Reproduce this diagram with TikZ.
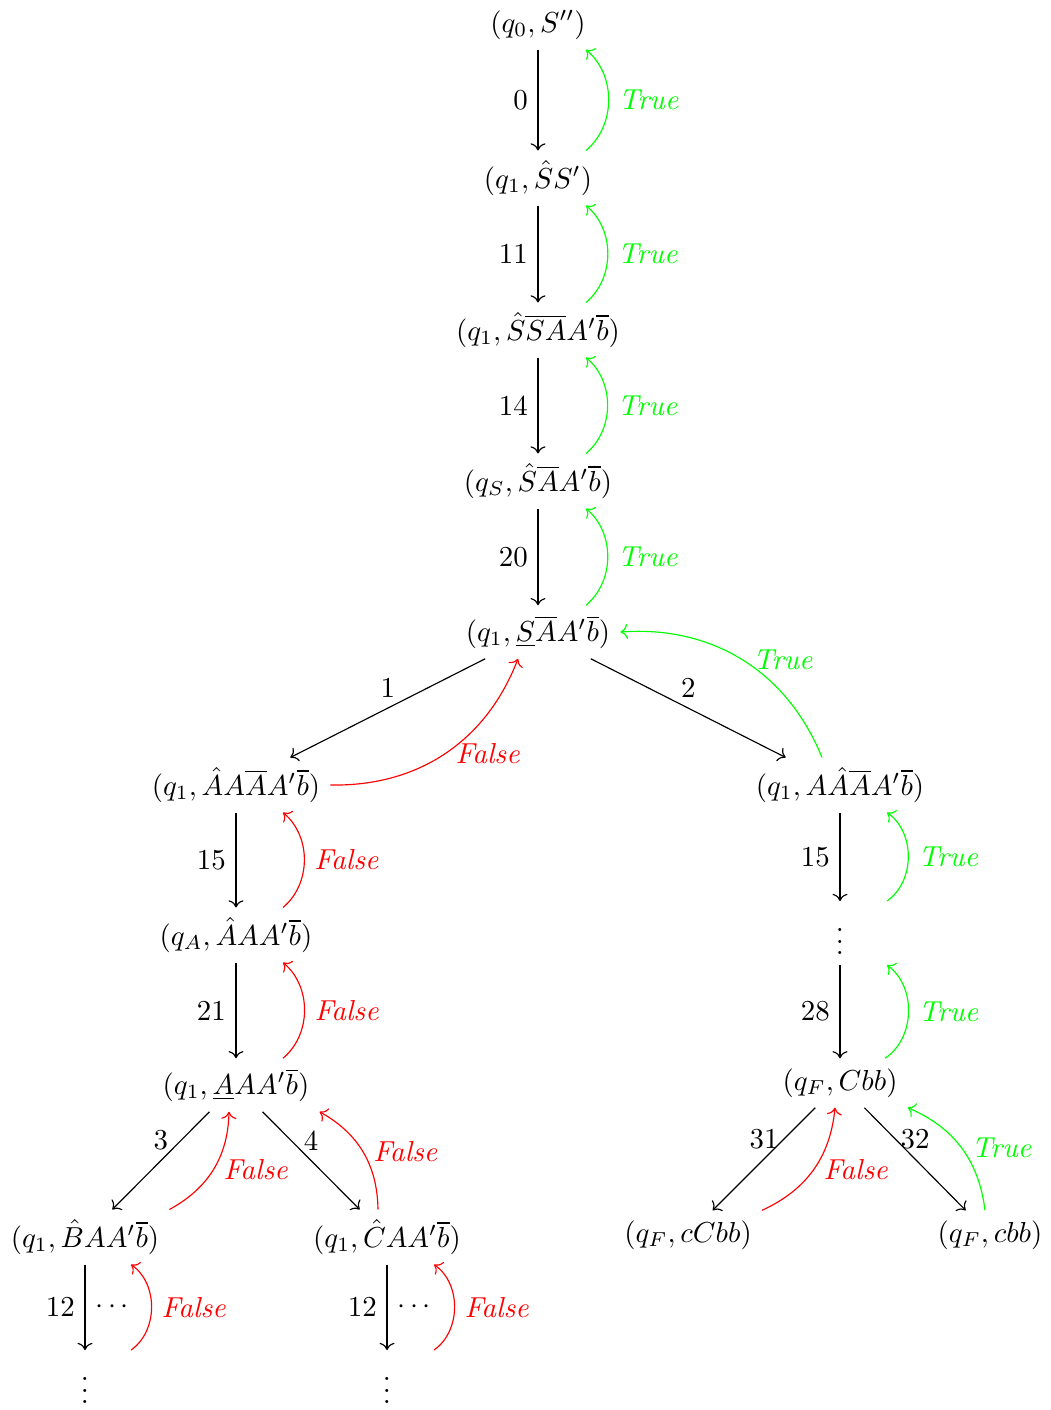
\documentclass[tikz,border=0pt]{standalone}
\usetikzlibrary{calc,arrows.meta}
\begin{document}
\begin{tikzpicture}[x=0.346pt,y=-0.346pt,
  >={Computer Modern Rightarrow},
  tru/.style={->,green},
  fal/.style={->,red},
  lab/.style={font=\itshape}]
\useasboundingbox (0,0) rectangle (1051,1410);
% nodes
\node (n0) at (538,25) {$(q_0,S'')$};
\node (n1) at (538,178) {$(q_1,\hat{S}S')$};
\node (n2) at (538,330) {$(q_1,\hat{S}\overline{S}\overline{A}A'\overline{b})$};
\node (n3) at (538,481) {$(q_S,\hat{S}\overline{A}A'\overline{b})$};
\node (n4) at (538,632) {$(q_1,\underline{S}\overline{A}A'\overline{b})$};
\node (nL) at (236,785) {$(q_1,\hat{A}A\overline{A}A'\overline{b})$};
\node (nR) at (840,785) {$(q_1,A\hat{A}\overline{A}A'\overline{b})$};
\node (nL2) at (236,935) {$(q_A,\hat{A}AA'\overline{b})$};
\node (nL3) at (236,1085) {$(q_1,\underline{A}AA'\overline{b})$};
\node (nLL) at (85,1237) {$(q_1,\hat{B}AA'\overline{b})$};
\node (nLR) at (387,1237) {$(q_1,\hat{C}AA'\overline{b})$};
\node (dL) at (85,1382) {$\vdots$};
\node (dR) at (387,1382) {$\vdots$};
\node (vR) at (840,933) {$\vdots$};
\node (nF) at (840,1083) {$(q_F,Cbb)$};
\node (nF1) at (688,1235) {$(q_F,cCbb)$};
\node (nF2) at (990,1235) {$(q_F,cbb)$};
% black transitions
\draw[->] (n0) -- node[left]{0} (n1);
\draw[->] (n1) -- node[left]{11} (n2);
\draw[->] (n2) -- node[left]{14} (n3);
\draw[->] (n3) -- node[left]{20} (n4);
\draw[->] (n4) -- node[above]{1} (nL);
\draw[->] (n4) -- node[above]{2} (nR);
\draw[->] (nL) -- node[left]{15} (nL2);
\draw[->] (nL2) -- node[left]{21} (nL3);
\draw[->] (nL3) -- node[above]{3} (nLL);
\draw[->] (nL3) -- node[above]{4} (nLR);
\draw[->] (nLL) -- node[left]{12} node[right]{$\cdots$} (dL);
\draw[->] (nLR) -- node[left]{12} node[right]{$\cdots$} (dR);
\draw[->] (nR) -- node[left]{15} (vR);
\draw[->] (vR) -- node[left]{28} (nF);
\draw[->] (nF) -- node[above]{31} (nF1);
\draw[->] (nF) -- node[above]{32} (nF2);
% returns
\draw[tru] ($(n1.north)+(48,0)$) to[bend right=50] node[right,lab]{True} ($(n0.south)+(48,0)$);
\draw[tru] ($(n2.north)+(48,0)$) to[bend right=50] node[right,lab]{True} ($(n1.south)+(48,0)$);
\draw[tru] ($(n3.north)+(48,0)$) to[bend right=50] node[right,lab]{True} ($(n2.south)+(48,0)$);
\draw[tru] ($(n4.north)+(48,0)$) to[bend right=50] node[right,lab]{True} ($(n3.south)+(48,0)$);
\draw[fal] (nL.east) to[bend right=35] node[right,lab]{False} ($(n4.south)+(-20,0)$);
\draw[tru] ($(nR.north)+(-18,0)$) to[bend right=36] node[right,lab]{True} (n4.east);
\draw[fal] ($(nL2.north)+(47,0)$) to[bend right=50] node[right,lab]{False} ($(nL.south)+(47,0)$);
\draw[fal] ($(nL3.north)+(47,0)$) to[bend right=50] node[right,lab]{False} ($(nL2.south)+(47,0)$);
\draw[fal] (nLL.north east) to[bend right=30] node[right,lab]{False} ($(nL3.south)+(-7,0)$);
\draw[fal] ($(nLR.north)+(-9,0)$) to[bend right=30] node[right,lab]{False} (nL3.south east);
\draw[fal] ($(dL.north)+(46,0)$) to[bend right=55] node[right,lab]{False} ($(nLL.south)+(46,0)$);
\draw[fal] ($(dR.north)+(47,0)$) to[bend right=55] node[right,lab]{False} ($(nLR.south)+(47,0)$);
\draw[tru] ($(vR.north)+(47,0)$) to[bend right=55] node[right,lab]{True} ($(nR.south)+(47,0)$);
\draw[tru] ($(nF.north)+(45,0)$) to[bend right=55] node[right,lab]{True} ($(vR.south)+(47,0)$);
\draw[fal] (nF1.north east) to[bend right=30] node[right,lab]{False} ($(nF.south)+(-5,0)$);
\draw[tru] ($(nF2.north)+(-5,0)$) to[bend right=30] node[right,lab]{True} (nF.south east);
\end{tikzpicture}
\end{document}
